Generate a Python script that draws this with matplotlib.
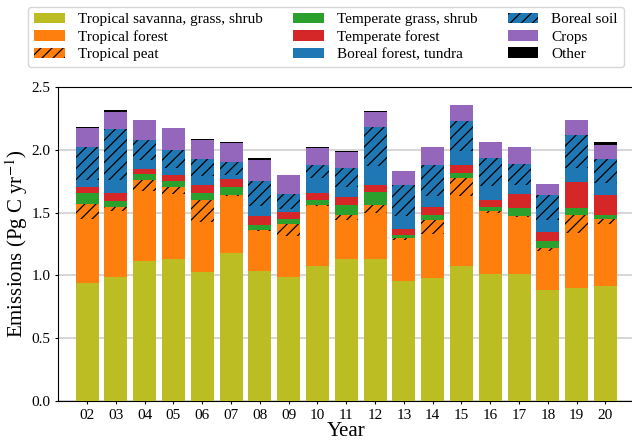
import numpy as np
import matplotlib
matplotlib.use("Agg")
import matplotlib.pyplot as plt

plt.rcParams["font.family"] = ["Liberation Serif", "DejaVu Serif"]
plt.rcParams["mathtext.fontset"] = "stix"
plt.rcParams["hatch.color"] = "black"
plt.rcParams["hatch.linewidth"] = 0.9

years = ["02", "03", "04", "05", "06", "07", "08", "09", "10", "11",
         "12", "13", "14", "15", "16", "17", "18", "19", "20"]

# Emissions per sector (Pg C / yr), stacked bottom to top
trop_savanna = [0.941, 0.989, 1.112, 1.133, 1.027, 1.178, 1.032, 0.984, 1.077, 1.130,
                1.130, 0.952, 0.981, 1.074, 1.008, 1.013, 0.880, 0.896, 0.918]
trop_forest = [0.506, 0.527, 0.564, 0.512, 0.401, 0.455, 0.322, 0.330, 0.479, 0.311,
               0.365, 0.330, 0.349, 0.556, 0.487, 0.455, 0.311, 0.444, 0.489]
trop_peat = [0.121, 0.027, 0.088, 0.057, 0.171, 0.011, 0.010, 0.096, 0.008, 0.043,
             0.069, 0.013, 0.109, 0.147, 0.021, 0.008, 0.030, 0.144, 0.043]
temp_grass = [0.092, 0.048, 0.045, 0.048, 0.058, 0.058, 0.041, 0.037, 0.040, 0.080,
              0.098, 0.027, 0.045, 0.040, 0.030, 0.062, 0.050, 0.054, 0.034]
temp_forest = [0.043, 0.064, 0.040, 0.048, 0.067, 0.067, 0.071, 0.058, 0.053, 0.059,
               0.056, 0.051, 0.059, 0.066, 0.058, 0.114, 0.077, 0.204, 0.158]
boreal_forest = [0.061, 0.109, 0.074, 0.059, 0.066, 0.035, 0.075, 0.025, 0.120, 0.082,
                 0.157, 0.098, 0.087, 0.107, 0.106, 0.072, 0.097, 0.115, 0.095]
boreal_soil = [0.261, 0.407, 0.160, 0.141, 0.139, 0.103, 0.199, 0.122, 0.104, 0.152,
               0.309, 0.253, 0.253, 0.239, 0.227, 0.165, 0.194, 0.266, 0.194]
crops = [0.151, 0.133, 0.153, 0.176, 0.153, 0.150, 0.171, 0.148, 0.136, 0.127,
         0.120, 0.107, 0.137, 0.128, 0.123, 0.132, 0.090, 0.116, 0.112]
other = [0.006, 0.012, 0.007, 0.005, 0.006, 0.005, 0.018, 0.004, 0.005, 0.006,
         0.005, 0.005, 0.005, 0.005, 0.004, 0.004, 0.003, 0.004, 0.019]

series = [
    ("Tropical savanna, grass, shrub", trop_savanna, "#bcbd22", None),
    ("Tropical forest", trop_forest, "#ff7f0e", None),
    ("Tropical peat", trop_peat, "#ff7f0e", "///"),
    ("Temperate grass, shrub", temp_grass, "#2ca02c", None),
    ("Temperate forest", temp_forest, "#d62728", None),
    ("Boreal forest, tundra", boreal_forest, "#1f77b4", None),
    ("Boreal soil", boreal_soil, "#1f77b4", "///"),
    ("Crops", crops, "#9467bd", None),
    ("Other", other, "black", None),
]

fig = plt.figure(figsize=(6.32, 4.43), dpi=100)
# the axes run slightly past the right edge of the canvas
ax = fig.add_axes([0.0922, 0.0955, 0.9114, 0.7074])

x = np.arange(len(years))
bottom = np.zeros(len(years))
handles = []
for label, vals, color, hatch in series:
    vals = np.asarray(vals)
    bars = ax.bar(x, vals, width=0.8, bottom=bottom, color=color,
                  hatch=hatch, linewidth=0, label=label, zorder=3)
    handles.append(bars)
    bottom = bottom + vals

ax.set_xticks(x)
ax.set_xticklabels(years)
ax.set_xlim(-1.0, 19.0)
ax.set_ylim(0, 2.5)
ax.set_yticks(np.arange(0, 2.51, 0.5))
ax.set_yticklabels([f"{v:.1f}" for v in np.arange(0, 2.51, 0.5)])
ax.tick_params(labelsize=11, length=2.2, pad=3.5)
ax.yaxis.grid(True, color="#d0d0d0", linewidth=1.2, zorder=0)
ax.set_axisbelow(True)
ax.set_xlabel("Year", fontsize=15, labelpad=0.5)
ax.set_ylabel(r"Emissions (Pg C yr$^{-1}$)", fontsize=15, labelpad=1)

fig.legend(handles=handles, loc="upper left", bbox_to_anchor=(0.0443, 0.985),
           borderaxespad=0, ncol=3, fontsize=11, frameon=True, fancybox=True,
           edgecolor="#cccccc", borderpad=0.4, labelspacing=0.24,
           columnspacing=2.0, handlelength=2.0, handletextpad=0.85)

fig.savefig("out.png", dpi=100)
